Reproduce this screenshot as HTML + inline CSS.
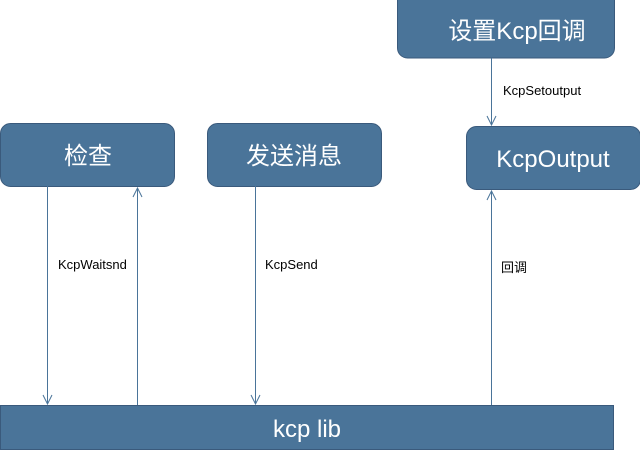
<!DOCTYPE html>
<html><head><meta charset="utf-8"><style>
body{margin:0;width:640px;height:456px;background:#fff;overflow:hidden;font-family:"Liberation Sans","Noto Sans CJK SC",sans-serif}
</style></head><body>
<svg width="640" height="456" xmlns="http://www.w3.org/2000/svg" font-family="Liberation Sans, Noto Sans CJK SC, sans-serif">
<g fill="#4a7499" stroke="#3a5a7c" stroke-width="1">
<rect x="397.5" y="-10" width="217" height="68" rx="10"/>
<rect x="0.5" y="123.5" width="174" height="63" rx="10"/>
<rect x="207.5" y="123.5" width="174" height="63" rx="10"/>
<rect x="466.5" y="126.5" width="174" height="63" rx="10"/>
<rect x="0.5" y="405.5" width="613" height="44"/>
</g>
<g fill="#fff" font-size="24" text-anchor="middle">
<text x="517" y="39">设置Kcp回调</text>
<text x="88" y="164">检查</text>
<text x="294" y="164">发送消息</text>
<text x="553" y="167">KcpOutput</text>
<text x="307" y="437">kcp lib</text>
</g>
<g stroke="#4a7499" stroke-width="1" fill="none">
<line x1="47.5" y1="186" x2="47.5" y2="404"/><polyline points="43,395 47.5,404 52,395"/>
<line x1="137.5" y1="188" x2="137.5" y2="405"/><polyline points="133,197 137.5,188 142,197"/>
<line x1="255.5" y1="186" x2="255.5" y2="404"/><polyline points="251,395 255.5,404 260,395"/>
<line x1="491.5" y1="191" x2="491.5" y2="405"/><polyline points="487,200 491.5,191 496,200"/>
<line x1="491.5" y1="58" x2="491.5" y2="125"/><polyline points="487,116 491.5,125 496,116"/>
</g>
<g fill="#000" font-size="13">
<text x="58" y="269">KcpWaitsnd</text>
<text x="265" y="269">KcpSend</text>
<text x="501" y="272">回调</text>
<text x="503" y="95">KcpSetoutput</text>
</g>
</svg>
</body></html>
